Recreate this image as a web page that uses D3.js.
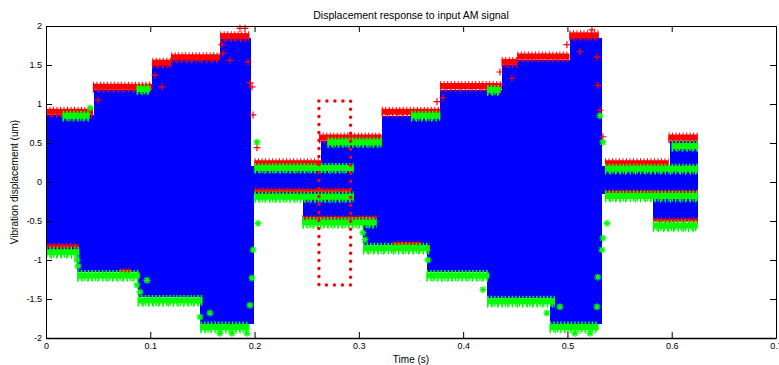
<!DOCTYPE html>
<html>
<head>
<meta charset="utf-8">
<script src="https://cdn.jsdelivr.net/npm/d3@7"></script>
<style>
  html, body { margin: 0; padding: 0; background: #fff; }
  svg { display: block; }
  text { font-family: "Liberation Sans", Arial, Helvetica, sans-serif; fill: #000; }
</style>
</head>
<body>
<svg id="chart" width="779" height="365"></svg>
<script>
// ---------- data ----------
const titleText = "Displacement response to input AM signal";
const xLabel = "Time (s)";
const yLabel = "Vibration displacement (um)";
const xTicks = [0, 0.1, 0.2, 0.3, 0.4, 0.5, 0.6, 0.7];
const xTickLabels = ["0", "0.1", "0.2", "0.3", "0.4", "0.5", "0.6", "0.7"];
const yTicks = [-2, -1.5, -1, -0.5, 0, 0.5, 1, 1.5, 2];
const yTickLabels = ["-2", "-1.5", "-1", "-0.5", "0", "0.5", "1", "1.5", "2"];

// envelope of the displacement signal (step: value holds from t until next t)
const upperT = [0, 0.046, 0.102, 0.120, 0.167, 0.197, 0.264, 0.322, 0.378, 0.437, 0.452, 0.502, 0.533, 0.598, 0.625];
const upperV = [0.86, 1.18, 1.50, 1.56, 1.84, 0.21, 0.52, 0.85, 1.18, 1.50, 1.57, 1.85, 0.21, 0.52, 0.52];
const lowerT = [0, 0.030, 0.088, 0.148, 0.199, 0.246, 0.304, 0.365, 0.423, 0.483, 0.533, 0.582, 0.625];
const lowerV = [-0.87, -1.15, -1.48, -1.82, -0.15, -0.49, -0.81, -1.15, -1.49, -1.82, -0.16, -0.50, -0.50];

// runs of detected peaks: [t start, t end, level]
const redTop = [
  [0.000, 0.045, 0.90], [0.045, 0.102, 1.22], [0.102, 0.120, 1.53], [0.120, 0.167, 1.60], [0.167, 0.195, 1.87],
  [0.200, 0.264, 0.24], [0.262, 0.322, 0.57], [0.322, 0.378, 0.90], [0.378, 0.437, 1.23], [0.437, 0.452, 1.54],
  [0.452, 0.502, 1.61], [0.502, 0.530, 1.88], [0.536, 0.597, 0.24], [0.597, 0.625, 0.57]
];
const redBottom = [
  [0.000, 0.031, -0.82], [0.200, 0.292, -0.11], [0.246, 0.317, -0.46], [0.071, 0.082, -1.14],
  [0.333, 0.360, -0.79], [0.536, 0.625, -0.13], [0.582, 0.625, -0.49]
];
const greenTop = [
  [0.016, 0.042, 0.85], [0.087, 0.100, 1.19], [0.200, 0.295, 0.18], [0.270, 0.322, 0.51],
  [0.350, 0.378, 0.85], [0.423, 0.436, 1.18], [0.536, 0.625, 0.17], [0.600, 0.625, 0.46]
];
const greenBottom = [
  [0.000, 0.032, -0.90], [0.030, 0.090, -1.20], [0.088, 0.150, -1.52], [0.148, 0.195, -1.86],
  [0.200, 0.295, -0.19], [0.246, 0.317, -0.52], [0.304, 0.368, -0.85], [0.365, 0.425, -1.20],
  [0.423, 0.488, -1.53], [0.483, 0.530, -1.86], [0.536, 0.625, -0.18], [0.582, 0.625, -0.56]
];
// isolated peaks on the switching edges
const redEdgeT = [0.0499, 0.1045, 0.1112, 0.1687, 0.1697, 0.1764, 0.1860, 0.1908, 0.1937, 0.1956, 0.1975, 0.1985, 0.2023,
                  0.3749, 0.3806, 0.4353, 0.4468, 0.4995, 0.5120, 0.5235, 0.5283, 0.5292, 0.5312, 0.5340];
const redEdgeV = [1.05, 1.37, 1.22, 1.76, 1.65, 1.56, 1.97, 1.97, 1.54, 1.27, 1.22, 0.86, 0.44,
                  1.03, 1.08, 1.41, 1.33, 1.76, 1.67, 1.95, 1.60, 1.24, 0.92, 0.58];
const greenEdgeT = [0.0297, 0.0307, 0.0422, 0.0872, 0.0901, 0.0968, 0.1477, 0.1572, 0.1668, 0.1783, 0.1927, 0.1956, 0.1975,
                    0.1985, 0.2023, 0.2033, 0.3039, 0.3059, 0.3662, 0.4190, 0.4803, 0.4928, 0.5072, 0.5216, 0.5283,
                    0.5292, 0.5312, 0.5331, 0.5340, 0.5340, 0.5379];
const greenEdgeV = [-1.00, -1.08, 0.95, -1.32, -1.41, -1.26, -1.73, -1.68, -1.94, -1.94, -1.94, -1.58, -1.23,
                    -0.87, 0.51, -0.53, -0.65, -0.74, -1.00, -1.38, -1.68, -1.60, -1.94, -1.94, -1.60,
                    -1.22, 0.85, -0.87, 0.51, -0.72, -0.53];
// dotted highlight box: [t0, t1], [vBottom, vTop]
const boxT = [0.2617, 0.2921];
const boxV = [-1.32, 1.04];

// ---------- drawing ----------
const svg = d3.select("#chart");
const L = 46, R = 776, T = 26, B = 338;
const x = d3.scaleLinear().domain([0, 0.7]).range([L, R]);
const y = d3.scaleLinear().domain([-2, 2]).range([B, T]);

const g = svg.append("g");

// blue signal fill (upper half and lower half)
const upData = upperT.map((t, i) => [t, upperV[i]]);
const loData = lowerT.map((t, i) => [t, lowerV[i]]);
const area = d3.area().curve(d3.curveStepAfter).x(d => x(d[0])).y0(y(0)).y1(d => y(d[1]));
g.append("path").datum(upData).attr("d", area).attr("fill", "#0000ff").attr("shape-rendering", "crispEdges");
g.append("path").datum(loData).attr("d", area).attr("fill", "#0000ff").attr("shape-rendering", "crispEdges");

// peak marker runs (dense rows of markers)
const line = d3.line().x(d => d[0]).y(d => d[1]);
function drawRuns(runs, color, solidW, dashW, dash, dash2) {
  const gg = g.append("g");
  runs.forEach(r => {
    const pts = [[x(r[0]), y(r[2])], [x(r[1]), y(r[2])]];
    gg.append("path").attr("d", line(pts)).attr("stroke", color).attr("stroke-width", solidW).attr("fill", "none");
    gg.append("path").attr("d", line(pts)).attr("stroke", color).attr("stroke-width", dashW)
      .attr("stroke-dasharray", dash).attr("fill", "none");
    gg.append("path").attr("d", line(pts.map(p => [p[0], p[1] + 2]))).attr("stroke", color).attr("stroke-width", dashW - 2)
      .attr("stroke-dasharray", dash2).attr("fill", "none");
  });
}
drawRuns(redTop, "#ff0000", 6, 10, "1 2.5", "1 4");
drawRuns(redBottom, "#ff0000", 3, 6, "1 3", "1 5");
drawRuns(greenTop, "#00ff00", 6, 10, "1.5 2", "1 4");
drawRuns(greenBottom, "#00ff00", 6, 11, "1.5 2", "1 4");

// isolated markers
const plus = "M-3.5,0H3.5M0,-3.5V3.5";
const star = "M-3.5,0H3.5M0,-3.5V3.5M-2.5,-2.5L2.5,2.5M-2.5,2.5L2.5,-2.5";
g.append("g").selectAll("path").data(redEdgeT.map((t, i) => [t, redEdgeV[i]])).join("path")
  .attr("transform", d => `translate(${x(d[0])},${y(d[1])})`).attr("d", plus)
  .attr("stroke", "#ff0000").attr("stroke-width", 1.2).attr("fill", "none");
g.append("g").selectAll("path").data(greenEdgeT.map((t, i) => [t, greenEdgeV[i]])).join("path")
  .attr("transform", d => `translate(${x(d[0])},${y(d[1])})`).attr("d", star)
  .attr("stroke", "#00ff00").attr("stroke-width", 1.3).attr("fill", "none");

// dotted box
g.append("rect")
  .attr("x", x(boxT[0])).attr("y", y(boxV[1]))
  .attr("width", x(boxT[1]) - x(boxT[0])).attr("height", y(boxV[0]) - y(boxV[1]))
  .attr("fill", "none").attr("stroke", "#ff0000").attr("stroke-width", 3.5)
  .attr("stroke-dasharray", "0 8").attr("stroke-linecap", "round");

// axes (box with inward ticks)
function styleAxis(sel) {
  sel.selectAll(".domain").attr("stroke", "#000").attr("stroke-width", 1);
  sel.selectAll(".tick line").attr("stroke", "#000").attr("stroke-width", 1);
  sel.selectAll("text").attr("font-size", "9px").attr("fill", "#000")
    .attr("font-family", "Liberation Sans, Arial, sans-serif");
}
const ax = svg.append("g").attr("transform", `translate(0,${B})`)
  .call(d3.axisBottom(x).tickValues(xTicks).tickFormat((d, i) => xTickLabels[i]).tickSizeInner(-6).tickSizeOuter(0).tickPadding(5));
styleAxis(ax);
ax.select(".domain").attr("stroke-width", 1.5);
const axT = svg.append("g").attr("transform", `translate(0,${T})`)
  .call(d3.axisTop(x).tickValues(xTicks).tickFormat("").tickSizeInner(-6).tickSizeOuter(0));
styleAxis(axT);
const ay = svg.append("g").attr("transform", `translate(${L},0)`)
  .call(d3.axisLeft(y).tickValues(yTicks).tickFormat((d, i) => yTickLabels[i]).tickSizeInner(-6).tickSizeOuter(0).tickPadding(4));
styleAxis(ay);
const ayR = svg.append("g").attr("transform", `translate(${R},0)`)
  .call(d3.axisRight(y).tickValues(yTicks).tickFormat("").tickSizeInner(-6).tickSizeOuter(0));
styleAxis(ayR);

// title and labels
svg.append("text").attr("x", (L + R) / 2).attr("y", 19).attr("text-anchor", "middle")
  .attr("font-size", "10.5px").text(titleText);
svg.append("text").attr("x", (L + R) / 2).attr("y", 363).attr("text-anchor", "middle")
  .attr("font-size", "10px").text(xLabel);
svg.append("text").attr("transform", `translate(18,${(T + B) / 2}) rotate(-90)`).attr("text-anchor", "middle")
  .attr("font-size", "10px").text(yLabel);
</script>
</body>
</html>
